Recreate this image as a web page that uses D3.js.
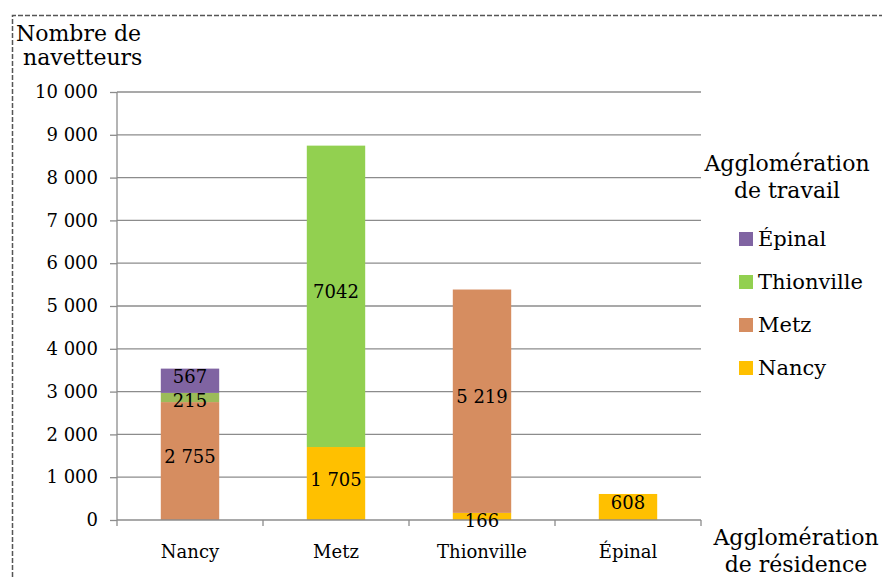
<!DOCTYPE html>
<html><head><meta charset="utf-8">
<script src="https://cdn.jsdelivr.net/npm/d3@7"></script>
<style>body{margin:0;background:#fff}svg{display:block}text{font-family:"DejaVu Serif","Noto Serif","Times New Roman",serif;fill:#000}</style>
</head><body>
<svg id="c" width="882" height="577"></svg>
<script>
const categories = ["Nancy", "Metz", "Thionville", "Épinal"];
const seriesNames = ["Nancy", "Metz", "Thionville", "Épinal"];
const valNancy = [0, 1705, 166, 608];
const valMetz = [2755, 0, 5219, 0];
const valThionville = [215, 7042, 0, 0];
const valEpinal = [567, 0, 0, 0];
const labelNancy = ["", "1 705", "166", "608"];
const labelMetz = ["2 755", "", "5 219", ""];
const labelThionville = ["215", "7042", "", ""];
const labelEpinal = ["567", "", "", ""];
const seriesColors = ["#FFC000", "#D68D60", "#92D050", "#8064A2"];
const yTicks = [0,1000,2000,3000,4000,5000,6000,7000,8000,9000,10000];

const values = [valNancy, valMetz, valThionville, valEpinal];
const labels = [labelNancy, labelMetz, labelThionville, labelEpinal];
const rows = categories.map((c,i)=>{const r={cat:c}; seriesNames.forEach((s,j)=>r[s]=values[j][i]); return r;});
const stack = d3.stack().keys(seriesNames)(rows);

const svg = d3.select("#c");
const x = d3.scaleBand().domain(categories).range([117,701]).paddingInner(0.6).paddingOuter(0.3);
const y = d3.scaleLinear().domain([0,10000]).range([520,92]);
const fmt = v => d3.format(",")(v).replace(/,/g," ");

svg.append("path").attr("d","M12.5,577 L12.5,15.5 L882,15.5").attr("fill","none")
  .attr("stroke","#555").attr("stroke-width",1.5).attr("stroke-dasharray","5,2");

svg.append("g").selectAll("line").data(yTicks.slice(1)).join("line")
  .attr("x1",117).attr("x2",701).attr("y1",d=>y(d)).attr("y2",d=>y(d))
  .attr("stroke","#8c8c8c").attr("stroke-width",1.3);

const ya = svg.append("g").attr("transform","translate(117,0)")
  .call(d3.axisLeft(y).tickValues(yTicks).tickFormat(fmt).tickSize(7).tickPadding(12));
ya.attr("font-family",null);
ya.select(".domain").attr("stroke","#8c8c8c").attr("stroke-width",1.3).attr("d","M0,92V520");
ya.selectAll(".tick line").attr("stroke","#8c8c8c").attr("stroke-width",1.3);
ya.selectAll("text").style("font-size","18px").attr("fill","#000");

const g = svg.append("g");
stack.forEach((s,j)=>{
  g.selectAll(null).data(s.filter(d=>d[1]-d[0]>0)).join("rect")
    .attr("x",d=>x(d.data.cat)).attr("width",x.bandwidth())
    .attr("y",d=>y(d[1])).attr("height",d=>y(d[0])-y(d[1]))
    .attr("fill",d=> (seriesNames[j]==="Thionville" && d.data.cat==="Nancy") ? "#9BBB59" : seriesColors[j]);
});

const xa = svg.append("g").attr("transform","translate(0,520)");
xa.append("line").attr("x1",117).attr("x2",701).attr("stroke","#8c8c8c").attr("stroke-width",1.3);
const step = x.step();
const bounds = d3.range(categories.length+1).map(i=>117+i*step);
xa.selectAll("line.t").data(bounds).join("line").attr("class","t")
  .attr("x1",d=>d).attr("x2",d=>d).attr("y1",0).attr("y2",6).attr("stroke","#8c8c8c").attr("stroke-width",1.3);
xa.selectAll("text").data(categories).join("text")
  .attr("x",d=>x(d)+x.bandwidth()/2).attr("y",38).attr("text-anchor","middle")
  .style("font-size","18px").text(d=>d);

stack.forEach((s,j)=>{
  s.forEach((d,i)=>{
    const t = labels[j][i];
    if(!t) return;
    let cy = (y(d[0])+y(d[1]))/2 - 4;
    if (d[1]-d[0] < 300) cy = y(d[1]) + 8;
    svg.append("text").attr("x",x(d.data.cat)+x.bandwidth()/2).attr("y",cy+6)
      .attr("text-anchor","middle").style("font-size","18px").text(t);
  });
});

svg.append("text").attr("x",16).attr("y",41).style("font-size","22px").text("Nombre de");
svg.append("text").attr("x",23).attr("y",65).style("font-size","22px").text("navetteurs");
svg.append("text").attr("x",796).attr("y",545).attr("text-anchor","middle").style("font-size","22px").text("Agglomération");
svg.append("text").attr("x",796).attr("y",572).attr("text-anchor","middle").style("font-size","22px").text("de résidence");

svg.append("text").attr("x",787).attr("y",171).attr("text-anchor","middle").style("font-size","22px").text("Agglomération");
svg.append("text").attr("x",787).attr("y",198).attr("text-anchor","middle").style("font-size","22px").text("de travail");
const legOrder = seriesNames.map((s,j)=>j).reverse();
const lg = svg.append("g");
legOrder.forEach((j,k)=>{
  const yy = 239 + k*43;
  lg.append("rect").attr("x",739).attr("y",yy-7).attr("width",14).attr("height",14).attr("fill",seriesColors[j]);
  lg.append("text").attr("x",758).attr("y",yy+7).style("font-size","21px").text(seriesNames[j]);
});
</script>
</body></html>
